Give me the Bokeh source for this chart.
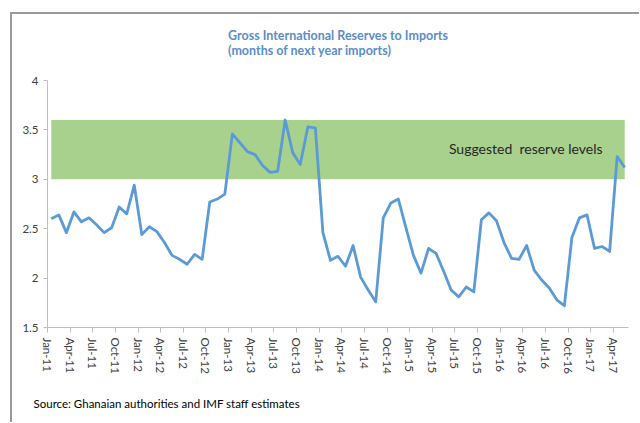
from bokeh.plotting import figure
from bokeh.models import Title, Label, FixedTicker, NumeralTickFormatter, Range1d
from bokeh.embed import file_html
from bokeh.resources import INLINE

# Gross international reserves, months of next-year imports (Jan-11 .. May-17)
reserves = [
    2.60, 2.64, 2.46, 2.67, 2.57, 2.61, 2.54, 2.46, 2.51, 2.72, 2.65, 2.94,
    2.44, 2.52, 2.47, 2.36, 2.23, 2.19, 2.14, 2.24, 2.19, 2.77, 2.80, 2.85,
    3.46, 3.37, 3.28, 3.25, 3.14, 3.07, 3.08, 3.60, 3.27, 3.15, 3.53, 3.52,
    2.46, 2.18, 2.22, 2.12, 2.33, 2.01, 1.88, 1.76, 2.61, 2.76, 2.80, 2.51,
    2.23, 2.05, 2.30, 2.25, 2.07, 1.88, 1.81, 1.91, 1.86, 2.59, 2.66, 2.58,
    2.36, 2.20, 2.19, 2.33, 2.08, 1.98, 1.90, 1.78, 1.72, 2.41, 2.61, 2.64,
    2.30, 2.32, 2.27, 3.23, 3.12,
]
month_index = list(range(len(reserves)))

tick_labels = [
    "Jan-11", "Apr-11", "Jul-11", "Oct-11", "Jan-12", "Apr-12", "Jul-12", "Oct-12",
    "Jan-13", "Apr-13", "Jul-13", "Oct-13", "Jan-14", "Apr-14", "Jul-14", "Oct-14",
    "Jan-15", "Apr-15", "Jul-15", "Oct-15", "Jan-16", "Apr-16", "Jul-16", "Oct-16",
    "Jan-17", "Apr-17",
]
y_ticks = [1.5, 2.0, 2.5, 3.0, 3.5, 4.0]

band_low = [3.0]
band_high = [3.6]
band_label = "Suggested\u00a0 reserve levels"

FONT = "Lato"
LINE_BLUE = "#5B9BD5"
TITLE_BLUE = "#5B8DC9"
AXIS_GRAY = "#BFBFBF"

p = figure(
    width=629, height=410,
    output_backend="svg", toolbar_location=None,
    x_range=Range1d(-0.5, len(reserves) - 0.5),
    y_range=Range1d(y_ticks[0], y_ticks[-1]),
    min_border_left=35, min_border_right=13,
    min_border_top=66, min_border_bottom=97,
)
p.margin = (12, 0, 0, 10)
p.styles = {"border-top": "2px solid #9a9a9a", "border-left": "2px solid #9a9a9a"}

p.background_fill_color = "white"
p.border_fill_color = "white"
p.outline_line_color = None
p.grid.visible = False

# suggested band
p.quad(left=[month_index[0]], right=[month_index[-1]], bottom=band_low, top=band_high,
       fill_color="#A9D18E", line_color=None)

p.line(month_index, reserves, line_color=LINE_BLUE, line_width=2.8, line_join="round")

p.add_layout(Label(x=52.7, y=3.31, text=band_label, text_font=FONT, text_font_size="14px",
                   text_color="#262626", text_baseline="middle"))

# x axis
tick_pos = [3 * i - 0.5 for i in range(len(tick_labels))]
p.xaxis.ticker = FixedTicker(ticks=tick_pos)
p.xaxis.major_label_overrides = {t: lab for t, lab in zip(tick_pos, tick_labels)}
p.xaxis.major_label_orientation = "vertical"
p.xaxis.major_tick_out = 5
p.xaxis.major_tick_in = 0
p.xaxis.minor_tick_line_color = None

# y axis
p.yaxis.ticker = FixedTicker(ticks=y_ticks)
p.yaxis.formatter = NumeralTickFormatter(format="0.[0]")
p.yaxis.major_tick_out = 4
p.yaxis.major_tick_in = 0
p.yaxis.minor_tick_line_color = None

for ax in (p.xaxis, p.yaxis):
    ax.axis_line_color = AXIS_GRAY
    ax.major_tick_line_color = AXIS_GRAY
    ax.major_label_text_font = FONT
    ax.major_label_text_font_size = "11.5px"
    ax.major_label_text_color = "#404040"
    ax.major_label_standoff = 5

# spacer above the frame, then the two-line title
p.add_layout(Title(text=" ", text_font_size="5px"), "above")
p.add_layout(Title(text="Gross International Reserves to Imports\n(months of next year imports)",
                   align="center", offset=7,
                   text_font=FONT, text_font_size="12.5px", text_font_style="bold",
                   text_color=TITLE_BLUE, text_line_height=0.95), "above")

# spacer below the axis, then the source note
p.add_layout(Title(text=" ", text_font_size="1px"), "below")
p.add_layout(Title(text="Source: Ghanaian authorities and IMF staff estimates", align="left",
                   offset=-14, text_font=FONT, text_font_size="11.5px",
                   text_font_style="normal", text_color="#000000"), "below")

open("out.html", "w").write(file_html(p, INLINE))
